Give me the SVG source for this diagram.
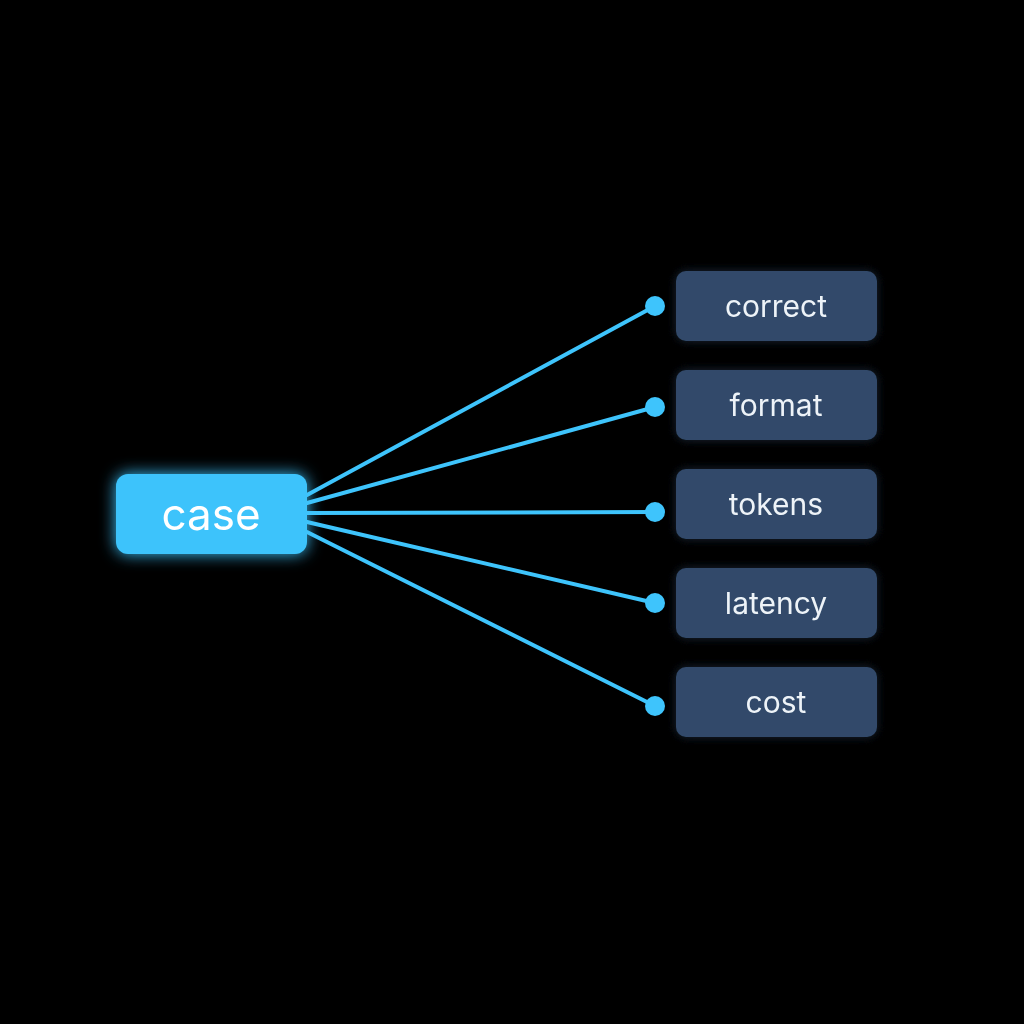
<svg xmlns="http://www.w3.org/2000/svg" width="1024" height="1024" viewBox="0 0 1024 1024">
<defs>
<style>
.leaf{fill:#304a6a}
.lt{font-family:"Inter","Liberation Sans",sans-serif;font-size:30px;fill:#eef3f8;text-anchor:middle;dominant-baseline:central}
.c{stroke:#3ec4fc;stroke-width:4;fill:none;stroke-linecap:round}
.dot{fill:#3ec4fc}
</style>
<filter id="g" x="-30%" y="-50%" width="160%" height="200%"><feGaussianBlur in="SourceGraphic" stdDeviation="8" result="b"/><feMerge><feMergeNode in="b"/><feMergeNode in="SourceGraphic"/></feMerge></filter>
<filter id="g2" x="-30%" y="-50%" width="160%" height="200%"><feGaussianBlur in="SourceGraphic" stdDeviation="5" result="b"/><feComponentTransfer in="b" result="c"><feFuncA type="linear" slope="0.5"/></feComponentTransfer><feMerge><feMergeNode in="c"/><feMergeNode in="SourceGraphic"/></feMerge></filter>
</defs>
<rect width="1024" height="1024" fill="#000"/>
<g id="connectors">
<path class="c" d="M307 495L655 306"/>
<path class="c" d="M307 503L655 407"/>
<path class="c" d="M307 513L655 512"/>
<path class="c" d="M307 522L655 603"/>
<path class="c" d="M307 532L655 706"/>
<circle class="dot" cx="655" cy="306" r="10"/>
<circle class="dot" cx="655" cy="407" r="10"/>
<circle class="dot" cx="655" cy="512" r="10"/>
<circle class="dot" cx="655" cy="603" r="10"/>
<circle class="dot" cx="655" cy="706" r="10"/>
</g>
<g id="case" filter="url(#g)"><rect x="116" y="474" width="191" height="80" rx="12" fill="#3cc3fb"/><text x="211" y="514" font-family="Inter,'Liberation Sans',sans-serif" font-size="44" fill="#fff" text-anchor="middle" dominant-baseline="central">case</text></g>
<g id="correct" filter="url(#g2)"><rect class="leaf" x="676" y="271" width="201" height="70" rx="10"/><text class="lt" x="776" y="306">correct</text></g>
<g id="format" filter="url(#g2)"><rect class="leaf" x="676" y="370" width="201" height="70" rx="10"/><text class="lt" x="776" y="405">format</text></g>
<g id="tokens" filter="url(#g2)"><rect class="leaf" x="676" y="469" width="201" height="70" rx="10"/><text class="lt" x="776" y="504">tokens</text></g>
<g id="latency" filter="url(#g2)"><rect class="leaf" x="676" y="568" width="201" height="70" rx="10"/><text class="lt" x="776" y="603">latency</text></g>
<g id="cost" filter="url(#g2)"><rect class="leaf" x="676" y="667" width="201" height="70" rx="10"/><text class="lt" x="776" y="702">cost</text></g>
</svg>
